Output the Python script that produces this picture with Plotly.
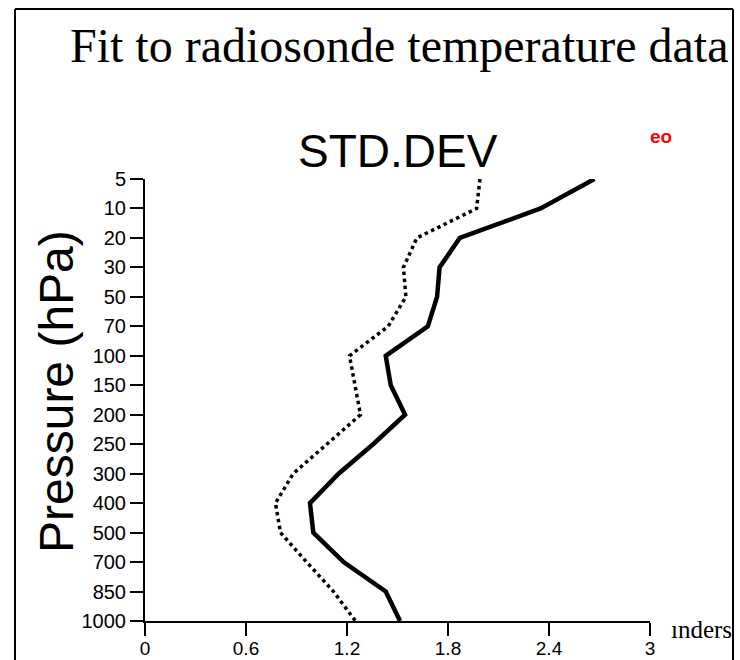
import plotly.graph_objects as go

# Pressure levels (hPa), top to bottom
levels = ["5", "10", "20", "30", "50", "70", "100", "150", "200",
          "250", "300", "400", "500", "700", "850", "1000"]

# Standard deviation profiles (K)
solid_std = [2.67, 2.35, 1.87, 1.75, 1.735, 1.68, 1.43, 1.46, 1.545,
             1.355, 1.15, 0.98, 1.00, 1.18, 1.43, 1.515]
dotted_std = [1.99, 1.97, 1.615, 1.535, 1.55, 1.445, 1.215, 1.25, 1.28,
              1.08, 0.88, 0.775, 0.805, 0.96, 1.12, 1.25]

x_ticks = [0, 0.6, 1.2, 1.8, 2.4, 3]
x_ticktext = ["0", "0.6", "1.2", "1.8", "2.4", "3"]

W, H = 740, 660
L, R, T, B = 145, 650, 179, 621  # plot area in pixels


def px(xpix):
    return (xpix - L) / (R - L)


def py(ypix):
    return (B - ypix) / (B - T)


fig = go.Figure()
fig.add_trace(go.Scatter(x=dotted_std, y=levels, mode="lines",
                         line=dict(color="black", width=3.5, dash="dot"),
                         showlegend=False))
fig.add_trace(go.Scatter(x=solid_std, y=levels, mode="lines",
                         line=dict(color="black", width=4.5),
                         showlegend=False))

tickfont = dict(family="Liberation Sans, Arial, sans-serif", size=19, color="black")

fig.update_layout(
    width=W, height=H,
    margin=dict(l=L, r=W - R, t=T, b=H - B, pad=0, autoexpand=False),
    paper_bgcolor="white", plot_bgcolor="white",
    xaxis=dict(range=[0, 3], tickvals=x_ticks, ticktext=x_ticktext,
               showgrid=False, zeroline=False, showline=True,
               linecolor="black", linewidth=2, ticks="outside",
               ticklen=13, tickwidth=2, tickcolor="black",
               ticklabelstandoff=-4,
               tickfont=tickfont, automargin=False),
    yaxis=dict(type="category", categoryorder="array", categoryarray=levels,
               range=[15, 0], showgrid=False, zeroline=False, showline=True,
               linecolor="black", linewidth=2, ticks="outside",
               ticklen=13, tickwidth=2, tickcolor="black",
               tickfont=dict(family="Liberation Sans, Arial, sans-serif", size=20, color="black"),
               automargin=False),
    annotations=[
        dict(text="Fit to radiosonde temperature data", xref="paper", yref="paper",
             x=px(399), y=py(46), xanchor="center", yanchor="middle",
             showarrow=False,
             font=dict(family="Liberation Serif, Times New Roman, serif", size=48, color="black")),
        dict(text="STD.DEV", xref="paper", yref="paper",
             x=px(398), y=py(151), xanchor="center", yanchor="middle",
             showarrow=False,
             font=dict(family="Liberation Sans, Arial, sans-serif", size=46, color="black")),
        dict(text="Pressure (hPa)", xref="paper", yref="paper",
             x=px(56), y=py(392), xanchor="center", yanchor="middle",
             textangle=-90, showarrow=False,
             font=dict(family="Liberation Sans, Arial, sans-serif", size=48, color="black")),
        dict(text="<b>eo</b>", xref="paper", yref="paper",
             x=px(661), y=py(137), xanchor="center", yanchor="middle",
             showarrow=False,
             font=dict(family="Liberation Sans, Arial, sans-serif", size=19, color="red")),
        dict(text="\u0131nders", xref="paper", yref="paper",
             x=px(669), y=py(629), xanchor="left", yanchor="middle",
             showarrow=False,
             font=dict(family="Liberation Serif, Times New Roman, serif", size=25, color="black")),
    ],
    shapes=[
        dict(type="line", xref="paper", yref="paper",
             x0=px(15), x1=px(15), y0=py(9), y1=py(680),
             line=dict(color="black", width=2)),
        dict(type="line", xref="paper", yref="paper",
             x0=px(15), x1=px(733), y0=py(9), y1=py(9),
             line=dict(color="black", width=2)),
        dict(type="line", xref="paper", yref="paper",
             x0=px(733), x1=px(733), y0=py(9), y1=py(680),
             line=dict(color="black", width=2)),
    ],
)

fig.write_html("out.html")
